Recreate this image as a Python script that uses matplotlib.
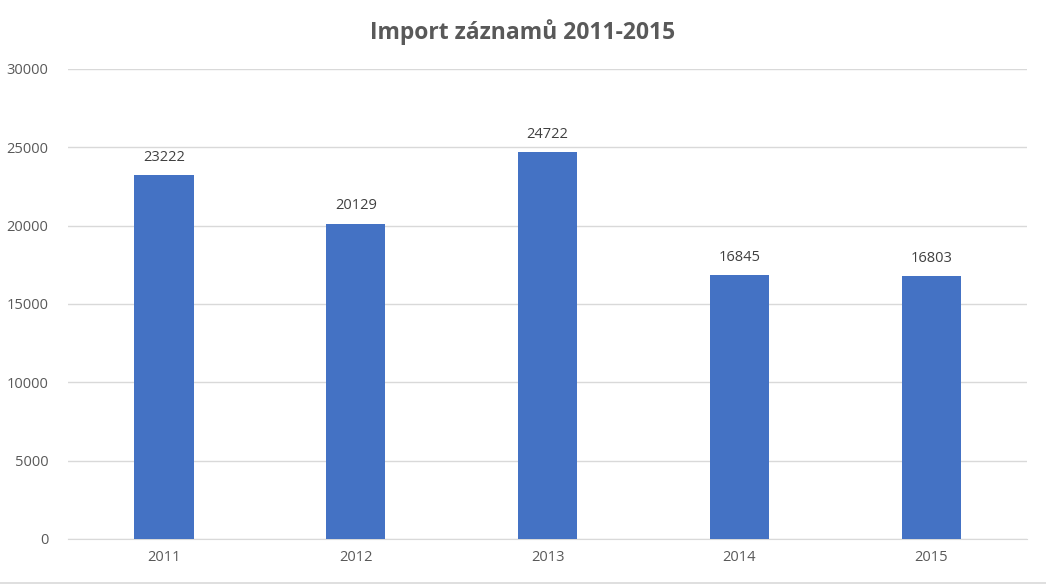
import matplotlib
matplotlib.use("Agg")
import matplotlib.pyplot as plt
from matplotlib.lines import Line2D

# data
years = ["2011", "2012", "2013", "2014", "2015"]
imports = [23222, 20129, 24722, 16845, 16803]
y_ticks = [0, 5000, 10000, 15000, 20000, 25000, 30000]

plt.rcParams["font.family"] = ["Open Sans", "DejaVu Sans"]
text_col = "#595959"

fig = plt.figure(figsize=(10.46, 5.85), dpi=100)
ax = fig.add_axes([0.065, 1 - 539 / 585, 0.917, (539 - 69) / 585])

x = range(len(years))
bars = ax.bar(x, imports, width=0.31, color="#4472C4", zorder=3)
for b, v in zip(bars, imports):
    ax.text(b.get_x() + b.get_width() / 2, v + 650, str(v),
            ha="center", va="bottom", fontsize=10.5, color="#404040")

ax.set_xlim(-0.5, len(years) - 0.5)
ax.set_ylim(0, 30000)
ax.set_yticks(y_ticks)
ax.set_yticklabels([str(t) for t in y_ticks])
ax.set_xticks(list(x))
ax.set_xticklabels(years)
ax.tick_params(axis="both", length=0, labelsize=10.5, labelcolor=text_col)
ax.tick_params(axis="y", pad=14)
ax.tick_params(axis="x", pad=8)
ax.grid(axis="y", color="#D9D9D9", linewidth=1, zorder=0)
for s in ["top", "right", "left"]:
    ax.spines[s].set_visible(False)
ax.spines["bottom"].set_color("#D9D9D9")

fig.suptitle("Import záznamů 2011-2015", y=0.968, fontsize=16.5,
             fontweight="bold", color=text_col)

# outer chart border along the bottom edge
fig.add_artist(Line2D([0, 1], [0.003, 0.003], transform=fig.transFigure,
                      color="#D9D9D9", linewidth=1.2))

fig.savefig("out.png", dpi=100)
